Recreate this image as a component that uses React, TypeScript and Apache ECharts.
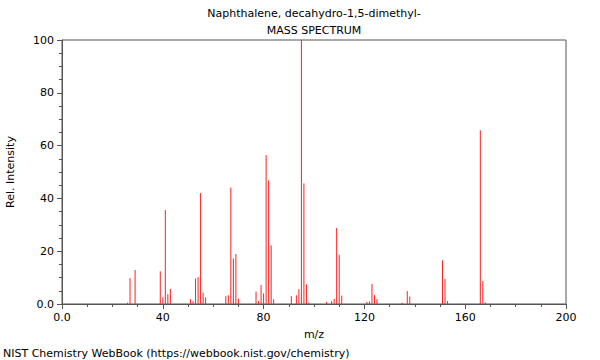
import React, { useEffect, useRef } from "react";
import * as echarts from "echarts";

const mz: number[] = [26, 27, 29, 39, 40, 41, 42, 43, 51, 52, 53, 54, 55, 56, 57, 65, 66, 67, 68, 69, 70, 77, 78, 79, 80, 81, 82, 83, 84, 91, 93, 94, 95, 96, 97, 98, 105, 107, 108, 109, 110, 111, 121, 122, 123, 124, 125, 135, 137, 138, 151, 152, 153, 166, 167, 168];
const intensity: number[] = [0.5, 9.8, 12.9, 12.4, 2.5, 35.6, 3.7, 5.7, 1.8, 1.1, 9.7, 10.2, 42.0, 4.3, 2.5, 3.0, 3.3, 44.1, 17.2, 18.9, 2.0, 4.7, 1.1, 7.2, 4.0, 56.4, 46.8, 22.2, 1.8, 3.0, 3.3, 5.6, 100, 45.7, 7.4, 0.5, 0.8, 1.1, 1.9, 28.8, 18.7, 3.2, 0.8, 1.0, 7.6, 3.4, 1.9, 0.5, 4.9, 2.8, 16.5, 9.5, 1.1, 65.8, 8.7, 0.6];

const titleLines: string[] = ["Naphthalene, decahydro-1,5-dimethyl-", "MASS SPECTRUM"];
const footer = "NIST Chemistry WebBook (https://webbook.nist.gov/chemistry)";

const FONT = "DejaVu Sans";

export default function App() {
  const ref = useRef<HTMLDivElement>(null);
  useEffect(() => {
    if (!ref.current) return;
    const chart = echarts.init(ref.current, undefined, { renderer: "svg" });
    const axisColor = "#555";
    const fmt = (v: number) => (v === 0 ? "0.0" : String(v));
    chart.setOption({
      animation: false,
      backgroundColor: "#fff",
      grid: {
        left: 62,
        right: 34,
        top: 40,
        bottom: 56,
        show: true,
        borderColor: axisColor,
        borderWidth: 1,
        backgroundColor: "transparent",
        outerBoundsMode: "none",
        containLabel: false,
      },
      graphic: [
        { type: "text", x: 314, y: 13, style: { text: titleLines[0], fontFamily: FONT, fontSize: 11, fill: "#000", textAlign: "center", textVerticalAlign: "middle" } },
        { type: "text", x: 314, y: 30, style: { text: titleLines[1], fontFamily: FONT, fontSize: 11, fill: "#000", textAlign: "center", textVerticalAlign: "middle" } },
        { type: "text", x: 3, y: 353, style: { text: footer, fontFamily: FONT, fontSize: 11, fill: "#000", textAlign: "left", textVerticalAlign: "middle" } },
      ],
      xAxis: {
        type: "value",
        min: 0,
        max: 200,
        interval: 40,
        name: "m/z",
        nameLocation: "middle",
        nameGap: 25,
        nameTextStyle: { fontFamily: FONT, fontSize: 11, color: "#000" },
        axisLine: { show: true, lineStyle: { color: axisColor } },
        axisTick: { show: true, length: 5, lineStyle: { color: axisColor } },
        minorTick: { show: true, splitNumber: 4, length: 3, lineStyle: { color: axisColor } },
        splitLine: { show: false },
        axisLabel: { fontFamily: FONT, fontSize: 11, color: "#000", margin: 8, formatter: fmt },
      },
      yAxis: {
        type: "value",
        min: 0,
        max: 100,
        interval: 20,
        name: "Rel. Intensity",
        nameLocation: "middle",
        nameGap: 46,
        nameRotate: 90,
        nameTextStyle: { fontFamily: FONT, fontSize: 11, color: "#000" },
        axisLine: { show: true, lineStyle: { color: axisColor } },
        axisTick: { show: true, length: 5, lineStyle: { color: axisColor } },
        minorTick: { show: true, splitNumber: 4, length: 3, lineStyle: { color: axisColor } },
        splitLine: { show: false },
        axisLabel: { fontFamily: FONT, fontSize: 11, color: "#000", margin: 8, formatter: fmt },
      },
      series: [
        {
          type: "custom",
          data: mz.map((m, i) => [m, intensity[i]]),
          silent: true,
          renderItem: (params: any, api: any) => {
            const top = api.coord([api.value(0), api.value(1)]);
            const base = api.coord([api.value(0), 0]);
            return {
              type: "line",
              shape: { x1: base[0], y1: base[1], x2: top[0], y2: top[1] },
              style: { stroke: "#ff2020", lineWidth: 1 },
            };
          },
        },
      ],
    });
    return () => chart.dispose();
  }, []);
  return <div ref={ref} style={{ width: 600, height: 360, position: "absolute", left: 0, top: 0 }} />;
}
